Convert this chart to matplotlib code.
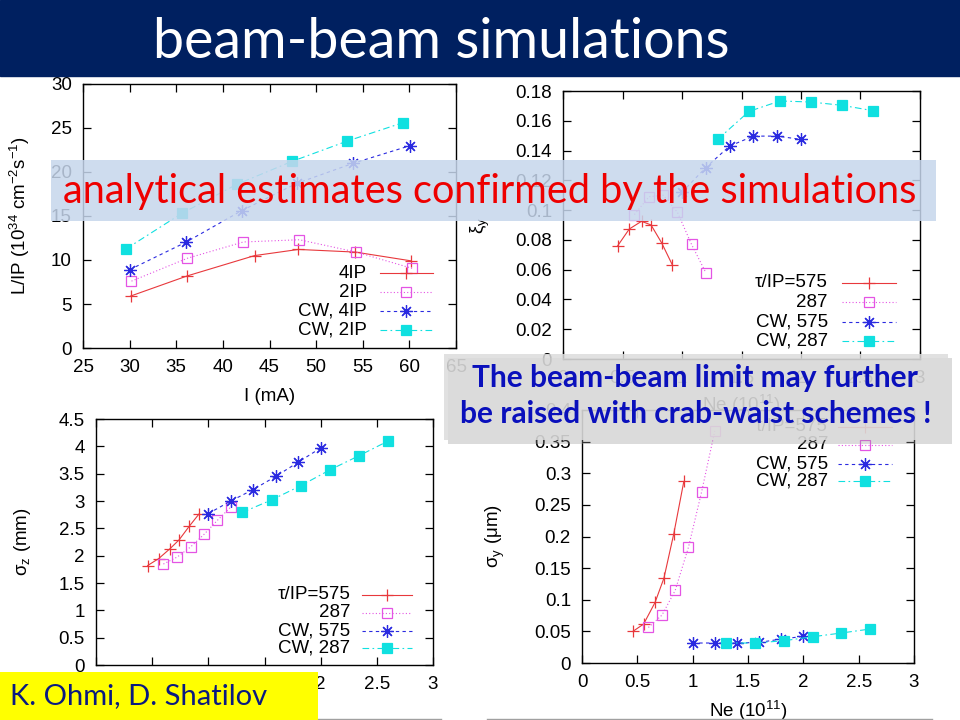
import matplotlib.pyplot as plt
from matplotlib.patches import Rectangle
from matplotlib.lines import Line2D
from matplotlib.ticker import FuncFormatter, MultipleLocator

plt.rcParams['font.family'] = ['Liberation Sans', 'DejaVu Sans']
plt.rcParams['mathtext.fontset'] = 'custom'
plt.rcParams['mathtext.rm'] = 'Liberation Sans'
plt.rcParams['mathtext.it'] = 'Liberation Sans:italic'

W, H = 960, 720
FS = 13.5

# top left: luminosity per IP vs current
cur_4ip = [30.1, 36.2, 43.4, 48.1, 54.2, 60.2]
lum_4ip = [5.9, 8.2, 10.5, 11.2, 10.9, 9.9]
cur_2ip = [30.2, 36.2, 42.2, 48.2, 54.3, 60.3]
lum_2ip = [7.6, 10.2, 12.05, 12.3, 10.9, 9.05]
cur_cw4 = [30.0, 36.0, 42.0, 47.9, 54.0, 60.1]
lum_cw4 = [8.9, 12.0, 15.6, 18.7, 21.0, 23.0]
cur_cw2 = [29.6, 35.6, 41.5, 47.4, 53.3, 59.3]
lum_cw2 = [11.25, 15.3, 18.6, 21.2, 23.5, 25.6]
labels_lum = ["4IP", "2IP", "CW, 4IP", "CW, 2IP"]

# Ne values shared by the three other panels
ne_575 = [0.46, 0.557, 0.66, 0.74, 0.829, 0.92]
ne_287 = [0.6, 0.723, 0.842, 0.962, 1.08, 1.2]
ne_cw575 = [1.0, 1.2, 1.4, 1.6, 1.8, 2.0]
ne_cw287 = [1.3, 1.563, 1.823, 2.083, 2.343, 2.603]
labels_ne = ["\u03c4/IP=575", "287", "CW, 575", "CW, 287"]

# top right: beam-beam parameter
xi_575 = [0.0761, 0.0873, 0.0925, 0.090, 0.078, 0.063]
xi_287 = [0.097, 0.109, 0.110, 0.0985, 0.077, 0.058]
xi_cw575 = [0.112, 0.1286, 0.143, 0.1497, 0.1497, 0.1475]
xi_cw287 = [0.1475, 0.1663, 0.1733, 0.1726, 0.1704, 0.1668]

# bottom left: bunch length
sz_575 = [1.82, 1.945, 2.13, 2.29, 2.535, 2.77]
sz_287 = [1.847, 1.975, 2.16, 2.39, 2.645, 2.89]
sz_cw575 = [2.77, 3.0, 3.21, 3.45, 3.71, 3.97]
sz_cw287 = [2.79, 3.02, 3.28, 3.57, 3.83, 4.10]

# bottom right: vertical beam size
sy_575 = [0.05, 0.0616, 0.0957, 0.134, 0.204, 0.287]
sy_287 = [0.0562, 0.0758, 0.1147, 0.183, 0.270, 0.367]
sy_cw575 = [0.0316, 0.0316, 0.0316, 0.0325, 0.0379, 0.042]
sy_cw287 = [0.0316, 0.0316, 0.0352, 0.0415, 0.0474, 0.0537]

styles = [
    dict(color='#e8383c', ls='-', marker='+', ms=8, mew=0.9, mfc='none'),
    dict(color='#e454e4', ls=(0, (1, 2)), marker='s', ms=7, mew=0.9, mfc='none'),
    dict(color='#2a2ae0', ls=(0, (3, 3)), marker=(8, 2, 0), ms=9, mew=0.9),
    dict(color='#10e0e0', ls=(0, (6, 3, 1.5, 3)), marker='s', ms=7, mew=0.9),
]


def px_axes(x0, y0, x1, y1):
    return fig.add_axes([x0 / W, 1 - y1 / H, (x1 - x0) / W, (y1 - y0) / H])


def gformat(v, pos):
    return "%g" % round(v, 6)


def style_axes(ax, xlim, ylim, xstep, ystep):
    ax.set_xlim(*xlim)
    ax.set_ylim(*ylim)
    ax.xaxis.set_major_locator(MultipleLocator(xstep))
    ax.yaxis.set_major_locator(MultipleLocator(ystep))
    ax.xaxis.set_major_formatter(FuncFormatter(gformat))
    ax.yaxis.set_major_formatter(FuncFormatter(gformat))
    ax.tick_params(direction='in', length=6, width=0.9, top=True, right=True,
                   labelsize=FS, pad=8)
    for s in ax.spines.values():
        s.set_linewidth(1.0)


def draw_key(ax, xt, xa, xb, rows, labels):
    # gnuplot style key: right aligned text, sample line to the right
    for y, lab, st in zip(rows, labels, styles):
        ax.text(xt, y, lab, transform=ax.transAxes, ha='right', va='center',
                fontsize=FS)
        ax.add_line(Line2D([xa, xb], [y, y], transform=ax.transAxes,
                           color=st['color'], ls=st['ls'], lw=0.8))
        ax.add_line(Line2D([(xa + xb) / 2], [y], transform=ax.transAxes,
                           color=st['color'], ls='none', marker=st['marker'],
                           ms=st['ms'], mew=st['mew'],
                           mfc=st.get('mfc', st['color'])))


def plot_series(ax, xs, ys):
    for x, y, st in zip(xs, ys, styles):
        ax.plot(x, y, color=st['color'], ls=st['ls'], lw=0.8, marker=st['marker'],
                ms=st['ms'], mew=st['mew'], mfc=st.get('mfc', st['color']))


fig = plt.figure(figsize=(9.6, 7.2), dpi=100)

# panel 1
ax1 = px_axes(83, 84, 456, 348)
plot_series(ax1, [cur_4ip, cur_2ip, cur_cw4, cur_cw2],
            [lum_4ip, lum_2ip, lum_cw4, lum_cw2])
style_axes(ax1, (25, 65), (0, 30), 5, 5)
ax1.set_xlabel("I (mA)", fontsize=FS)
ax1.set_ylabel("L/IP (10$^{34}$ cm$^{-2}$s$^{-1}$)", fontsize=FS)
ax1.xaxis.set_label_coords(0.5, -0.15)
ax1.yaxis.set_label_coords(-0.137, 0.5)
draw_key(ax1, 0.761, 0.796, 0.938, [0.284, 0.212, 0.140, 0.068], labels_lum)

# panel 2
ax2 = px_axes(563, 91, 920, 359)
plot_series(ax2, [ne_575, ne_287, ne_cw575, ne_cw287],
            [xi_575, xi_287, xi_cw575, xi_cw287])
style_axes(ax2, (0, 3), (0, 0.18), 0.5, 0.02)
ax2.set_xlabel("Ne (10$^{11}$)", fontsize=FS)
ax2.set_ylabel("\u03be$_\\mathrm{y}$", fontsize=FS)
ax2.xaxis.set_label_coords(0.5, -0.127)
ax2.yaxis.set_label_coords(-0.199, 0.5)
draw_key(ax2, 0.742, 0.782, 0.933, [0.285, 0.212, 0.139, 0.067], labels_ne)

# panel 3
ax3 = px_axes(96, 419, 433, 665)
plot_series(ax3, [ne_575, ne_287, ne_cw575, ne_cw287],
            [sz_575, sz_287, sz_cw575, sz_cw287])
style_axes(ax3, (0, 3), (0, 4.5), 0.5, 0.5)
ax3.set_xlabel("Ne (10$^{11}$)", fontsize=FS)
ax3.set_ylabel("\u03c3$_\\mathrm{z}$ (mm)", fontsize=FS)
ax3.xaxis.set_label_coords(0.5, -0.14)
ax3.yaxis.set_label_coords(-0.187, 0.5)
draw_key(ax3, 0.754, 0.789, 0.938, [0.285, 0.213, 0.139, 0.068], labels_ne)

# panel 4
ax4 = px_axes(582, 410, 914, 663)
plot_series(ax4, [ne_575, ne_287, ne_cw575, ne_cw287],
            [sy_575, sy_287, sy_cw575, sy_cw287])
style_axes(ax4, (0, 3), (0, 0.4), 0.5, 0.05)
ax4.set_xlabel("Ne (10$^{11}$)", fontsize=FS)
ax4.set_ylabel("\u03c3$_\\mathrm{y}$ (\u03bcm)", fontsize=FS)
ax4.xaxis.set_label_coords(0.5, -0.14)
ax4.yaxis.set_label_coords(-0.226, 0.5)
draw_key(ax4, 0.741, 0.771, 0.934, [0.934, 0.862, 0.787, 0.718], labels_ne)


def px_rect(x0, y0, x1, y1, **kw):
    r = Rectangle((x0 / W, 1 - y1 / H), (x1 - x0) / W, (y1 - y0) / H,
                  transform=fig.transFigure, **kw)
    fig.add_artist(r)
    return r


# slide decorations
px_rect(0, 0, 960, 76, color='#002060', zorder=5)
fig.text(441 / W, 1 - 42 / H, "beam-beam simulations", color='white',
         fontsize=40, family='Lato', ha='center', va='center', zorder=6)

px_rect(51, 160, 936, 221, color='#c6d6ec', alpha=0.85, lw=0, zorder=5)
fig.text(490 / W, 1 - 191 / H, "analytical estimates confirmed by the simulations",
         color='#ee0000', fontsize=28.6, family='Lato', ha='center', va='center',
         zorder=6)

px_rect(448, 358, 952, 444, color='#9a9a9a', alpha=0.35, lw=0, zorder=5)
px_rect(444, 354, 948, 440, color='#dcdcdc', alpha=0.85, lw=0, zorder=5)
fig.text(695 / W, 1 - 378 / H, "The beam-beam limit may further",
         color='#0a10bc', fontsize=21.5, family='Lato', weight='bold',
         ha='center', va='center', zorder=6)
fig.text(696 / W, 1 - 414 / H, "be raised with crab-waist schemes !",
         color='#0a10bc', fontsize=21.5, family='Lato', weight='bold',
         ha='center', va='center', zorder=6)

px_rect(0, 672, 318, 720, color='#ffff00', lw=0, zorder=5)
fig.text(10 / W, 1 - 696 / H, "K. Ohmi, D. Shatilov", color='#0a1a80',
         fontsize=21, family='Lato', ha='left', va='center', zorder=6)

for xa, xb in [(318, 441), (487, 932)]:
    fig.add_artist(Line2D([xa / W, xb / W], [1 - 718.5 / H, 1 - 718.5 / H],
                          transform=fig.transFigure, color='#a0a0a0', lw=1.0))

fig.savefig("out.png", dpi=100)
